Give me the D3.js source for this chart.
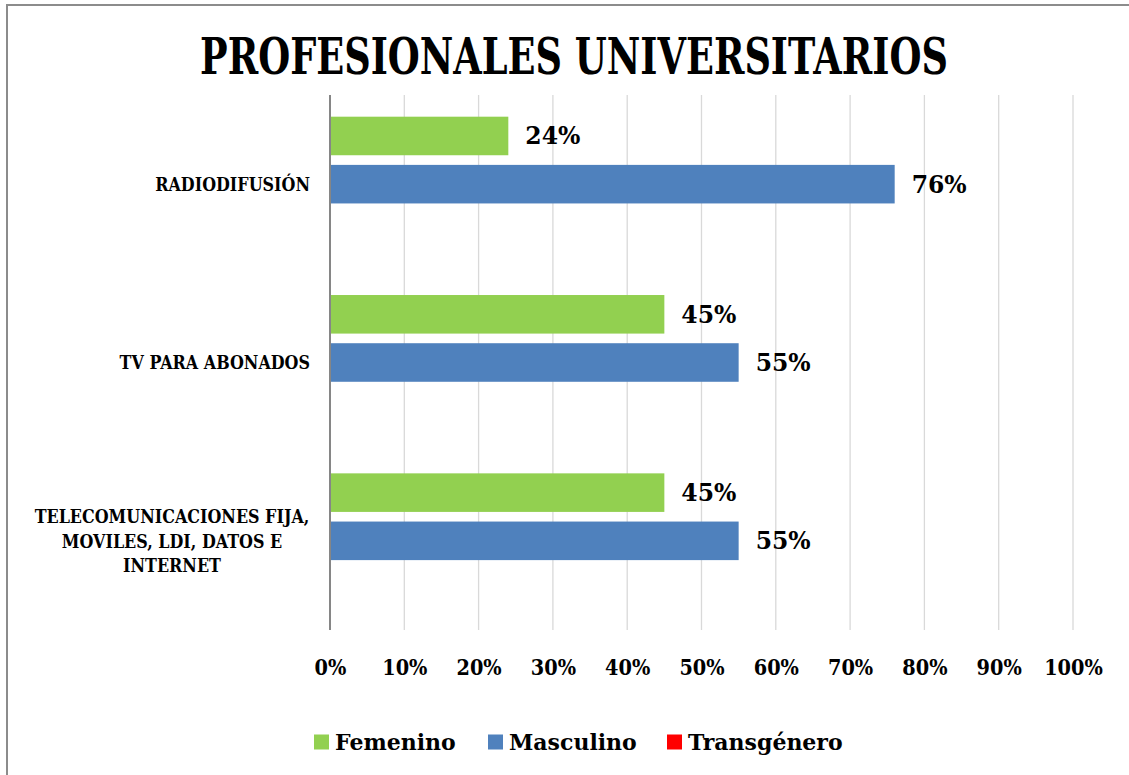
<!DOCTYPE html>
<html>
<head>
<meta charset="utf-8">
<script src="https://cdn.jsdelivr.net/npm/d3@7"></script>
<style>
  body { margin: 0; background: #fff; }
  text { font-family: "DejaVu Serif", "Liberation Serif", serif; font-weight: bold; fill: #000; }
</style>
</head>
<body>
<div id="chart"></div>
<script>
// data
var categories = ['RADIODIFUSIÓN', 'TV PARA ABONADOS', 'TELECOMUNICACIONES FIJA, MOVILES, LDI, DATOS E INTERNET'];
var categoryLines = [['RADIODIFUSIÓN'], ['TV PARA ABONADOS'], ['TELECOMUNICACIONES FIJA,', 'MOVILES, LDI, DATOS E', 'INTERNET']];
var seriesNames = ['Femenino', 'Masculino', 'Transgénero'];
var femenino = [0.24, 0.45, 0.45];
var masculino = [0.76, 0.55, 0.55];
var transgenero = [0, 0, 0];
var seriesColors = ['#92D050', '#4F81BD', '#FF0000'];
var xTicks = [0, 0.1, 0.2, 0.3, 0.4, 0.5, 0.6, 0.7, 0.8, 0.9, 1];
var title = 'PROFESIONALES UNIVERSITARIOS';

var W = 1129, H = 775;
var plotLeft = 330, plotRight = 1073, plotTop = 95, plotBottom = 630;
var squeeze = 0.84; // condensed look of the original font

var svg = d3.select('#chart').append('svg')
  .attr('width', W).attr('height', H);

// outer frame (runs off the right and bottom edge)
svg.append('rect')
  .attr('x', 7).attr('y', 5).attr('width', 1140).attr('height', 800)
  .attr('fill', '#fff').attr('stroke', '#8c8c8c').attr('stroke-width', 2);

var x = d3.scaleLinear().domain([0, 1]).range([plotLeft, plotRight]);
var y0 = d3.scaleBand().domain(categories).range([plotTop, plotBottom]);
var y1 = d3.scaleBand().domain(seriesNames).range([0, y0.bandwidth()])
  .paddingInner(0.2).paddingOuter(0.45);
var color = d3.scaleOrdinal().domain(seriesNames).range(seriesColors);

var rows = categories.map(function(c, i) {
  return { cat: c, lines: categoryLines[i], values: [
    { s: 'Femenino', v: femenino[i] },
    { s: 'Masculino', v: masculino[i] },
    { s: 'Transgénero', v: transgenero[i] }
  ]};
});

// gridlines
var grid = svg.append('g').attr('class', 'grid');
grid.selectAll('line').data(xTicks.slice(1)).enter().append('line')
  .attr('x1', function(d) { return x(d); })
  .attr('x2', function(d) { return x(d); })
  .attr('y1', plotTop).attr('y2', plotBottom)
  .attr('stroke', '#d9d9d9').attr('stroke-width', 1.3);

// bars
var groups = svg.selectAll('g.cat').data(rows).enter().append('g')
  .attr('class', 'cat')
  .attr('transform', function(d) { return 'translate(0,' + y0(d.cat) + ')'; });

groups.selectAll('rect').data(function(d) { return d.values; }).enter().append('rect')
  .attr('x', x(0))
  .attr('y', function(d) { return y1(d.s); })
  .attr('width', function(d) { return x(d.v) - x(0); })
  .attr('height', y1.bandwidth())
  .attr('fill', function(d) { return color(d.s); });

// value labels (none for zero values)
groups.selectAll('text.val').data(function(d) { return d.values.filter(function(v) { return v.v > 0; }); })
  .enter().append('text')
  .attr('class', 'val')
  .attr('x', function(d) { return x(d.v) + 17; })
  .attr('y', function(d) { return y1(d.s) + y1.bandwidth() / 2; })
  .attr('dy', '0.36em')
  .style('font-size', '23.5px')
  .text(function(d) { return d3.format('.0%')(d.v); });

// vertical axis line
svg.append('line')
  .attr('x1', x(0)).attr('x2', x(0)).attr('y1', plotTop).attr('y2', plotBottom)
  .attr('stroke', '#868686').attr('stroke-width', 2);

// category labels
var catLabels = svg.append('g').selectAll('text').data(rows).enter().append('text')
  .style('font-size', '19px')
  .attr('text-anchor', function(d) { return d.lines.length > 1 ? 'middle' : 'end'; })
  .attr('transform', function(d) {
    var cy = y0(d.cat) + y0.bandwidth() / 2;
    var cx = d.lines.length > 1 ? 172 : 310;
    return 'translate(' + cx + ',' + cy + ') scale(' + squeeze + ',1)';
  });
catLabels.selectAll('tspan').data(function(d) {
    return d.lines.map(function(l, i) { return { t: l, i: i, n: d.lines.length }; });
  })
  .enter().append('tspan')
  .attr('x', 0)
  .attr('y', function(d) { return (d.i - (d.n - 1) / 2) * 24.5; })
  .attr('dy', '0.36em')
  .text(function(d) { return d.t; });

// x axis labels
var xAxis = d3.axisBottom(x).tickValues(xTicks).tickSize(0).tickPadding(0)
  .tickFormat(d3.format('.0%'));
var ax = svg.append('g').attr('transform', 'translate(0,667)').call(xAxis);
ax.select('.domain').remove();
ax.selectAll('text')
  .attr('y', 0).attr('dy', '0.36em')
  .attr('transform', 'scale(' + squeeze + ',1)')
  .style('font-family', '"DejaVu Serif", "Liberation Serif", serif')
  .style('font-weight', 'bold')
  .style('font-size', '23px')
  .style('fill', '#000');

// title, squeezed to the width of the original
var titleG = svg.append('g').attr('transform', 'translate(574,56)');
var titleText = titleG.append('text')
  .attr('text-anchor', 'middle').attr('dy', '0.36em')
  .style('font-size', '50px')
  .text(title);
var natural = titleText.node().getComputedTextLength();
titleText.attr('transform', 'scale(' + (748 / natural) + ',1)');

// legend
var legendX = [314, 488, 667];
var lg = svg.append('g').selectAll('g').data(seriesNames).enter().append('g')
  .attr('transform', function(d, i) { return 'translate(' + legendX[i] + ',742)'; });
lg.append('rect').attr('x', 0).attr('y', -7.5).attr('width', 15).attr('height', 15)
  .attr('fill', function(d) { return color(d); });
lg.append('text').attr('x', 21).attr('dy', '0.36em')
  .style('font-size', '22px')
  .text(function(d) { return d; });
</script>
</body>
</html>
